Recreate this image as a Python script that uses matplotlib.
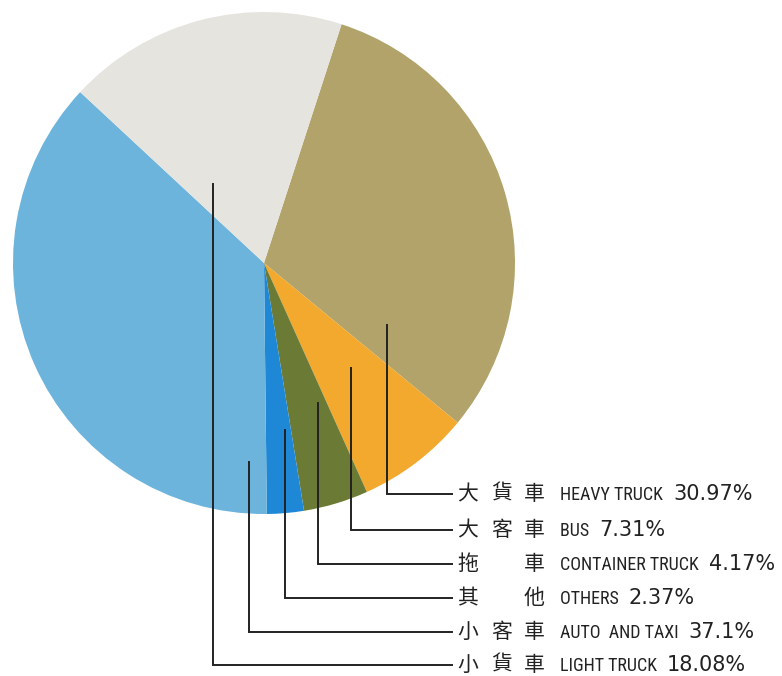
import matplotlib
matplotlib.use("Agg")
import matplotlib.pyplot as plt
from matplotlib import font_manager

# ---- data ----
categories_zh = ["大貨車", "大客車", "拖　車", "其　他", "小客車", "小貨車"]
categories_en = ["HEAVY TRUCK", "BUS", "CONTAINER TRUCK", "OTHERS", "AUTO  AND TAXI", "LIGHT TRUCK"]
shares = [30.97, 7.31, 4.17, 2.37, 37.1, 18.08]
share_labels = ["30.97%", "7.31%", "4.17%", "2.37%", "37.1%", "18.08%"]

# ---- style / layout ----
colors = ["#b1a369", "#f2a92e", "#6b7b35", "#1e88d6", "#6cb4dc", "#e6e4df"]
W, H = 782, 676
cx, cy, R = 264, 263, 251
leader_x = [387, 351, 318, 285, 249, 213]
leader_top = [325, 368, 403, 430, 462, 184]
row_y = [494, 530, 564, 598, 632, 665]
line_end_x = 452
zh_x = [457, 491, 524]
en_x = 560

names = {f.name for f in font_manager.fontManager.ttflist}
narrow = None
for cand in ["Liberation Sans Narrow", "DejaVu Sans Condensed", "Roboto Condensed"]:
    if cand in names:
        narrow = cand
        break

fig = plt.figure(figsize=(W / 100, H / 100), dpi=100)
ax = fig.add_axes([0, 0, 1, 1])

def fy(y):
    return H - y

ax.pie(shares, colors=colors, startangle=72, counterclock=False,
       center=(cx, fy(cy)), radius=R, frame=True,
       wedgeprops=dict(linewidth=0))
ax.set_xlim(0, W)
ax.set_ylim(0, H)
ax.set_aspect("equal")
ax.axis("off")

cjk = ["Noto Sans CJK TC", "DejaVu Sans"]
en_kw = dict(family=narrow, fontsize=13) if narrow else dict(family="DejaVu Sans", fontsize=12)
for i in range(len(shares)):
    x = leader_x[i]
    ax.plot([x, x, line_end_x], [fy(leader_top[i]), fy(row_y[i]), fy(row_y[i])],
            color="#222222", lw=1.4, solid_joinstyle="miter")
    for j, ch in enumerate(categories_zh[i]):
        if ch == "　":
            continue
        ax.text(zh_x[j], fy(row_y[i]), ch, fontsize=15, family=cjk,
                ha="left", va="center", color="#222222")
    t = ax.text(en_x, fy(row_y[i]) - 1, categories_en[i] + " ",
                ha="left", va="center", color="#222222", **en_kw)
    fig.canvas.draw()
    bb = t.get_window_extent()
    x1 = ax.transData.inverted().transform((bb.x1, bb.y0))[0]
    ax.text(x1 + 6, fy(row_y[i]), share_labels[i], fontsize=15,
            family="DejaVu Sans", ha="left", va="center", color="#222222")

fig.savefig("out.png", dpi=100, facecolor="white")
